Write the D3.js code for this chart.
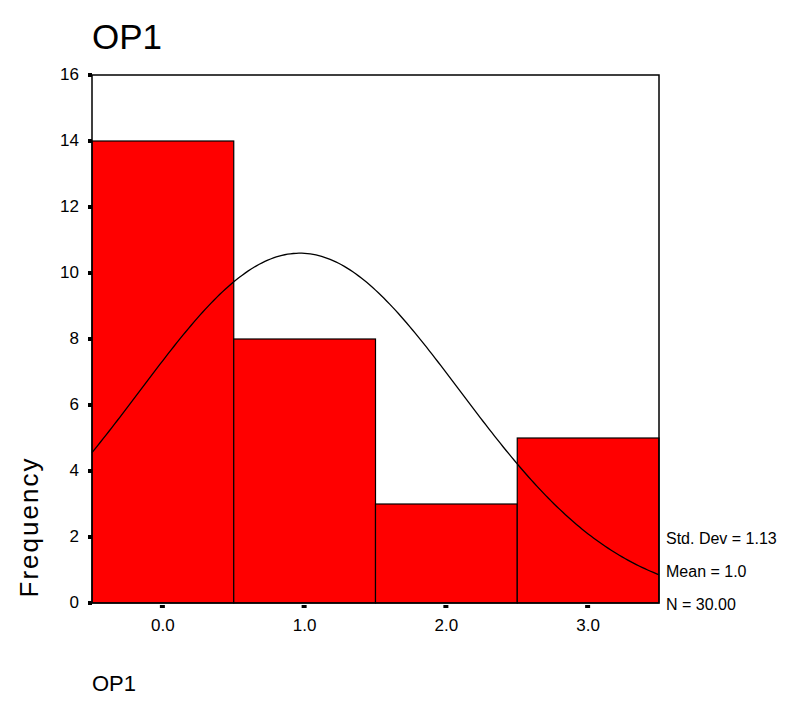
<!DOCTYPE html>
<html><head><meta charset="utf-8">
<script src="https://cdn.jsdelivr.net/npm/d3@7"></script>
<style>body{margin:0;background:#fff}svg{display:block}text{font-family:"Liberation Sans",Arial,sans-serif;fill:#000}</style>
</head><body>
<script>
const categories = [0, 1, 2, 3];
const frequencies = [14, 8, 3, 5];
const yTicks = [0, 2, 4, 6, 8, 10, 12, 14, 16];
const xTickLabels = ["0.0", "1.0", "2.0", "3.0"];
const statLabels = ["Std. Dev = 1.13", "Mean = 1.0", "N = 30.00"];
const title = "OP1";

const W = 812, H = 702;
const m = {left: 92, right: 153, top: 75, bottom: 99};
const svg = d3.select("body").append("svg").attr("width", W).attr("height", H);

const x = d3.scaleLinear().domain([-0.5, 3.5]).range([m.left, W - m.right]);
const y = d3.scaleLinear().domain([0, 16]).range([H - m.bottom, m.top]);

// stats from data
const N = d3.sum(frequencies);
const mean = d3.sum(categories.map((c, i) => c * frequencies[i])) / N;
const ss = d3.sum(categories.map((c, i) => frequencies[i] * (c - mean) ** 2));
const sd = Math.sqrt(ss / (N - 1));

// bars
svg.append("g").selectAll("rect").data(categories).join("rect")
  .attr("x", d => x(d - 0.5)).attr("y", (d, i) => y(frequencies[i]))
  .attr("width", d => x(d + 0.5) - x(d - 0.5))
  .attr("height", (d, i) => y(0) - y(frequencies[i]))
  .attr("fill", "#ff0000").attr("stroke", "#000").attr("stroke-width", 1.2);

// normal curve
const xs = d3.range(-0.5, 3.5001, 0.02);
const pdf = v => N / (sd * Math.sqrt(2 * Math.PI)) * Math.exp(-0.5 * ((v - mean) / sd) ** 2);
svg.append("path").datum(xs)
  .attr("d", d3.line().x(d => x(d)).y(d => y(pdf(d))))
  .attr("fill", "none").attr("stroke", "#000").attr("stroke-width", 1.3);

// frame
svg.append("rect").attr("x", m.left).attr("y", m.top)
  .attr("width", W - m.right - m.left).attr("height", H - m.bottom - m.top)
  .attr("fill", "none").attr("stroke", "#000").attr("stroke-width", 1.5);

// y axis ticks
const yg = svg.append("g");
yg.selectAll("rect").data(yTicks).join("rect")
  .attr("x", m.left - 4).attr("y", d => y(d) - 2).attr("width", 4).attr("height", 4).attr("fill", "#000");
yg.selectAll("text").data(yTicks).join("text")
  .attr("x", 79).attr("y", d => y(d) + 5)
  .attr("text-anchor", "end").style("font-size", "17px").text(d => d);

// x axis ticks
const xg = svg.append("g");
xg.selectAll("rect").data(categories).join("rect")
  .attr("x", d => x(d) - 3).attr("y", y(0) + 2).attr("width", 5).attr("height", 3).attr("fill", "#000");
xg.selectAll("text").data(categories).join("text")
  .attr("x", d => x(d)).attr("y", y(0) + 28)
  .attr("text-anchor", "middle").style("font-size", "17px").text((d, i) => xTickLabels[i]);

// stats
svg.append("g").selectAll("text").data(statLabels).join("text")
  .attr("x", 666).attr("y", (d, i) => 544 + i * 33)
  .style("font-size", "16px").text(d => d);

// titles
svg.append("text").attr("x", 92).attr("y", 49).style("font-size", "35px").text(title);
svg.append("text").attr("x", 92).attr("y", 691).style("font-size", "22px").text(title);
svg.append("text").attr("transform", "translate(38,527) rotate(-90)")
  .attr("text-anchor", "middle").style("font-size", "26px").style("letter-spacing", "2px")
  .text("Frequency");
</script>
</body></html>
